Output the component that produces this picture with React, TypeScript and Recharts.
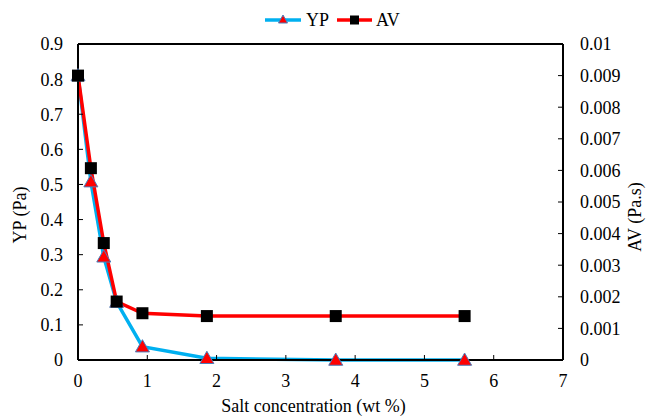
import React from "react";
import { LineChart, Line, XAxis, YAxis, Legend, Label, ReferenceLine } from "recharts";

// salt concentration (wt %)
const salt = [0, 0.186, 0.372, 0.558, 0.93, 1.86, 3.72, 5.58];
// yield point, Pa (left axis)
const yp = [0.81, 0.508, 0.294, 0.165, 0.038, 0.005, 0, 0];
// apparent viscosity, Pa.s (right axis)
const av = [0.009, 0.00607, 0.0037, 0.00185, 0.00148, 0.00139, 0.00139, 0.00139];

const xTicks = [0, 1, 2, 3, 4, 5, 6, 7];
const ypTicks = [0, 0.1, 0.2, 0.3, 0.4, 0.5, 0.6, 0.7, 0.8, 0.9];
const avTicks = [0, 0.001, 0.002, 0.003, 0.004, 0.005, 0.006, 0.007, 0.008, 0.009, 0.01];

const data = salt.map((s, i) => ({ salt: s, yp: yp[i], av: av[i] }));

const FONT = "Liberation Serif";
const BLUE = "#00b0f0";
const RED = "#ff0000";
const FS = 18;
const tickStyle = { fontFamily: FONT, fontSize: FS, fill: "#000" };

const Triangle = (props: any) => {
  const { cx, cy } = props;
  if (cx == null || cy == null) return null;
  const s = 7;
  return (
    <polygon
      points={`${cx},${cy - s} ${cx + s},${cy + s * 0.75} ${cx - s},${cy + s * 0.75}`}
      fill={RED}
      stroke="#4a7ebb"
      strokeWidth={1}
    />
  );
};

const Square = (props: any) => {
  const { cx, cy } = props;
  if (cx == null || cy == null) return null;
  return <rect x={cx - 6} y={cy - 6} width={12} height={12} fill="#000" />;
};

const LegendBox = () => (
  <svg width={140} height={30} style={{ display: "block" }}>
    <line x1={3} x2={39} y1={15} y2={15} stroke={BLUE} strokeWidth={3.5} />
    <polygon points="21,10 25.5,18 16.5,18" fill={RED} stroke="#4a7ebb" strokeWidth={1} />
    <text x={44} y={21} fontFamily={FONT} fontSize={FS} fill="#000">YP</text>
    <line x1={75} x2={110} y1={15} y2={15} stroke={RED} strokeWidth={3.5} />
    <rect x={88} y={10.5} width={9} height={9} fill="#000" />
    <text x={114} y={21} fontFamily={FONT} fontSize={FS} fill="#000">AV</text>
  </svg>
);

export default function App() {
  return (
    <div style={{ position: "absolute", left: 0, top: 0, background: "#fff" }}>
      <LineChart
        width={649}
        height={416}
        data={data}
        margin={{ top: 44, right: 0, bottom: 26, left: 10 }}
      >
        <XAxis
          dataKey="salt"
          type="number"
          domain={[0, 7]}
          ticks={xTicks}
          height={30}
          stroke="#000"
          axisLine={{ strokeWidth: 2 }}
          tickSize={-5}
          tickMargin={19}
          tick={tickStyle}
        >
          <Label
            content={({ viewBox }: any) => (
              <text
                x={viewBox.x + viewBox.width / 2 - 7}
                y={viewBox.y + 52}
                textAnchor="middle"
                fontFamily={FONT}
                fontSize={FS}
                fill="#000"
              >
                Salt concentration (wt %)
              </text>
            )}
          />
        </XAxis>
        <YAxis
          yAxisId="l"
          domain={[0, 0.9]}
          ticks={ypTicks}
          width={68}
          stroke="#000"
          axisLine={{ strokeWidth: 2 }}
          tickSize={-5}
          tickMargin={20}
          tick={tickStyle}
        >
          <Label
            content={({ viewBox }: any) => {
              const x = viewBox.x + 10;
              const y = viewBox.y + viewBox.height / 2 + 13;
              return (
                <text x={x} y={y} transform={`rotate(-90 ${x} ${y})`} textAnchor="middle" dominantBaseline="central" fontFamily={FONT} fontSize={FS} fill="#000">
                  YP (Pa)
                </text>
              );
            }}
          />
        </YAxis>
        <YAxis
          yAxisId="r"
          orientation="right"
          domain={[0, 0.01]}
          ticks={avTicks}
          width={86}
          stroke="#000"
          axisLine={{ strokeWidth: 2 }}
          tickSize={-5}
          tickMargin={22}
          tick={tickStyle}
        >
          <Label
            content={({ viewBox }: any) => {
              const x = viewBox.x + 72;
              const y = viewBox.y + viewBox.height / 2 + 15;
              return (
                <text x={x} y={y} transform={`rotate(-90 ${x} ${y})`} textAnchor="middle" dominantBaseline="central" fontFamily={FONT} fontSize={FS} fill="#000">
                  AV (Pa.s)
                </text>
              );
            }}
          />
        </YAxis>
        <ReferenceLine yAxisId="l" y={0.9} stroke="#000" strokeWidth={2} />
        <Legend
          verticalAlign="middle"
          wrapperStyle={{ top: 5, left: 262, width: 140 }}
          content={() => <LegendBox />}
        />
        <Line
          yAxisId="l"
          dataKey="yp"
          name="YP"
          stroke={BLUE}
          strokeWidth={3.5}
          dot={<Triangle />}
          activeDot={false}
          isAnimationActive={false}
        />
        <Line
          yAxisId="r"
          dataKey="av"
          name="AV"
          stroke={RED}
          strokeWidth={3.5}
          dot={<Square />}
          activeDot={false}
          isAnimationActive={false}
        />
      </LineChart>
    </div>
  );
}
